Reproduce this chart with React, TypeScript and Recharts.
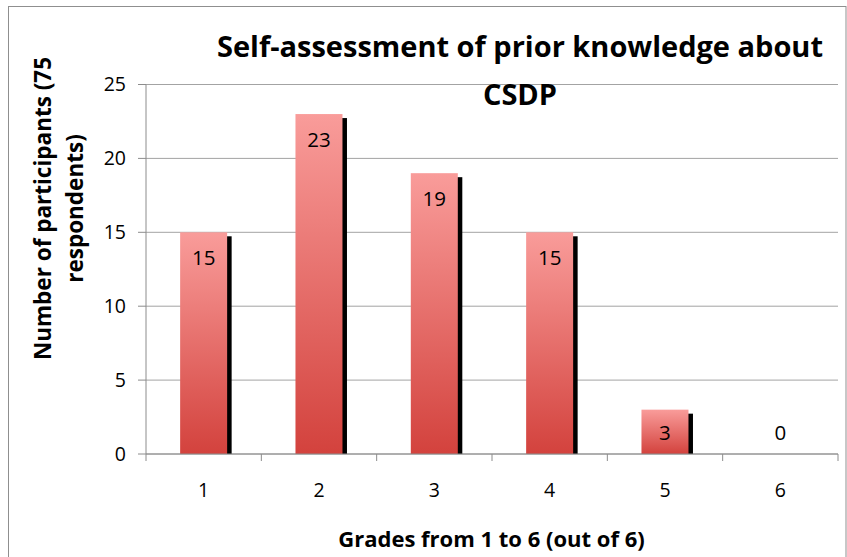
import { Bar, BarChart, CartesianGrid, LabelList, XAxis, YAxis } from "recharts";

const grades = ["1", "2", "3", "4", "5", "6"];
const counts = [15, 23, 19, 15, 3, 0];
const yTicks = [0, 5, 10, 15, 20, 25];

const titleLines = ["Self-assessment of prior knowledge about", "CSDP"];
const yTitleLines = ["Number of participants (75", "respondents)"];
const xTitle = "Grades from 1 to 6 (out of 6)";

const data = grades.map((g, i) => ({ grade: g, count: counts[i] }));

const FONT = "'Open Sans', Lato, sans-serif";
const AXIS_GRAY = "#8c8c8c";

const ShadowBar = (props: any) => {
  const { x, y, width, height } = props;
  if (!height || height <= 0) return null;
  return (
    <g>
      <rect x={x + 4.5} y={y + 4} width={width} height={Math.max(0, height - 4)} fill="#000" />
      <rect x={x} y={y} width={width} height={height} fill="url(#barFill)" />
    </g>
  );
};

const ValueLabel = (props: any) => {
  const { x, y, width, height, value } = props;
  const h = Number(height) || 0;
  const cy = h > 0 ? y + Math.min(25, h / 2) : y - 22;
  return (
    <text
      x={x + width / 2}
      y={cy}
      textAnchor="middle"
      dominantBaseline="central"
      fontSize={20.5}
      fontFamily={FONT}
      fill="#000"
    >
      {value}
    </text>
  );
};

const GradeTick = (props: any) => {
  const { x, y, payload, index, visibleTicksCount } = props;
  const half = payload?.offset ?? 57.67;
  const last = index === visibleTicksCount - 1;
  return (
    <g>
      <line x1={x - half} x2={x - half} y1={y} y2={y + 7} stroke={AXIS_GRAY} />
      {last && <line x1={x + half} x2={x + half} y1={y} y2={y + 7} stroke={AXIS_GRAY} />}
      <text x={x} y={y + 43} textAnchor="middle" fontSize={19.5} fontFamily={FONT} fill="#000">
        {payload.value}
      </text>
    </g>
  );
};

export default function App() {
  return (
    <div style={{ position: "absolute", left: 0, top: 0, width: 847, height: 557, background: "#fff" }}>
      <div style={{ position: "absolute", left: 0, top: 0 }}>
        <BarChart
          width={847}
          height={557}
          data={data}
          margin={{ top: 84.5, right: 9, bottom: 63, left: 86 }}
          barCategoryGap="29.6%"
        >
          <defs>
            <linearGradient id="barFill" x1="0" y1="0" x2="0" y2="1">
              <stop offset="0%" stopColor="#f99c9a" />
              <stop offset="100%" stopColor="#d3423d" />
            </linearGradient>
          </defs>
          <CartesianGrid vertical={false} stroke="#a3a3a3" />
          <XAxis
            dataKey="grade"
            height={40}
            axisLine={{ stroke: AXIS_GRAY }}
            tickLine={false}
            tickSize={0}
            tickMargin={0}
            tick={<GradeTick />}
            interval={0}
          />
          <YAxis
            width={60}
            domain={[0, 25]}
            ticks={yTicks}
            axisLine={{ stroke: AXIS_GRAY }}
            tickLine={{ stroke: AXIS_GRAY }}
            tickSize={8}
            tickMargin={12}
            tick={{ fontSize: 19.5, fontFamily: FONT, fill: "#000" }}
          />
          <Bar dataKey="count" shape={<ShadowBar />} isAnimationActive={false}>
            <LabelList dataKey="count" content={<ValueLabel />} />
          </Bar>
        </BarChart>
      </div>
      <svg
        width={847}
        height={557}
        style={{ position: "absolute", left: 0, top: 0, pointerEvents: "none" }}
      >
        <rect x={8.5} y={6.5} width={837.5} height={570} fill="none" stroke="#8f8f8f" />
        <g fontFamily={FONT} fontWeight="bold" fill="#000">
          <text x={520} y={57} textAnchor="middle" fontSize={29}>
            {titleLines[0]}
          </text>
          <text x={520} y={105} textAnchor="middle" fontSize={29}>
            {titleLines[1]}
          </text>
          <text x={51} y={208.5} textAnchor="middle" fontSize={22.5} transform="rotate(-90, 51, 208.5)">
            {yTitleLines[0]}
          </text>
          <text x={83} y={208.5} textAnchor="middle" fontSize={22.5} transform="rotate(-90, 83, 208.5)">
            {yTitleLines[1]}
          </text>
          <text x={491.5} y={547} textAnchor="middle" fontSize={22}>
            {xTitle}
          </text>
        </g>
      </svg>
    </div>
  );
}
